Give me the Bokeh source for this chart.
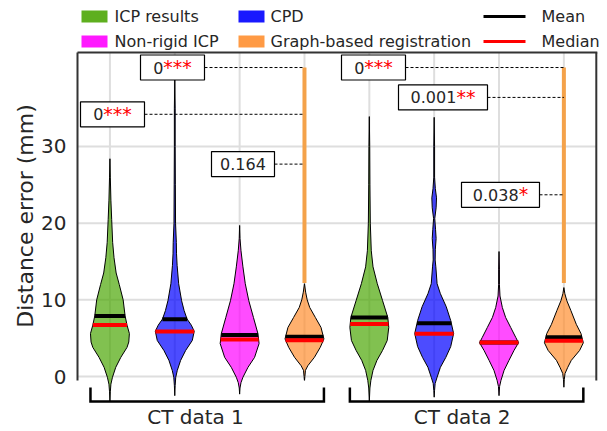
import numpy as np
from bokeh.plotting import figure
from bokeh.models import Range1d, FixedTicker
from bokeh.embed import file_html
from bokeh.resources import INLINE
from bokeh.core.properties import value

FONT = value("DejaVu Sans")

# ---------------- data ----------------
group_labels = ["CT data 1", "CT data 2"]
method_names = ["ICP results", "CPD", "Non-rigid ICP", "Graph-based registration"]
method_colors = ["#4ca606", "#0000ff", "#ff00ff", "#ff8f30"]
violin_pos = [1, 2, 3, 4, 5, 6, 7, 8]
violin_method = [0, 1, 2, 3, 0, 1, 2, 3]

mean_vals = [7.89, 7.48, 5.41, 5.17, 7.70, 6.96, 4.45, 5.11]
median_vals = [6.72, 5.87, 4.83, 4.74, 6.85, 5.56, 4.43, 4.67]

# violin outlines: distance value and relative half-width
icp1_y = [28.4, 26.0, 23.0, 20.5, 17.5, 15.5, 13.5, 12.0, 10.0, 7.9, 6.7, 5.6, 4.5, 3.8, 2.5, 1.2, -0.1, -1.0, -2.0, -3.3]
icp1_w = [0.0, 0.02, 0.05, 0.09, 0.14, 0.21, 0.32, 0.48, 0.68, 0.78, 0.88, 1.0, 0.97, 0.88, 0.56, 0.30, 0.13, 0.05, 0.02, 0.0]
cpd1_y = [38.8, 35.0, 30.0, 25.0, 20.0, 17.5, 16.0, 14.5, 12.1, 9.9, 8.6, 7.5, 6.7, 5.9, 4.7, 3.4, 2.1, 0.8, -0.1, -1.2, -2.5]
cpd1_w = [0.0, 0.02, 0.02, 0.03, 0.04, 0.08, 0.09, 0.12, 0.20, 0.35, 0.48, 0.63, 0.85, 1.0, 0.90, 0.56, 0.30, 0.13, 0.05, 0.02, 0.0]
nr1_y = [19.7, 18.0, 16.4, 14.3, 12.1, 9.9, 7.7, 5.6, 4.3, 2.5, 1.2, -0.1, -0.8, -1.5, -2.3]
nr1_w = [0.0, 0.02, 0.07, 0.17, 0.29, 0.47, 0.71, 0.94, 1.0, 0.77, 0.43, 0.17, 0.07, 0.02, 0.0]
gb1_y = [12.1, 11.0, 10.0, 9.0, 7.7, 6.4, 4.9, 3.8, 2.5, 1.4, 0.8, 0.0, -0.5]
gb1_w = [0.0, 0.06, 0.14, 0.27, 0.56, 0.85, 1.0, 0.81, 0.51, 0.17, 0.05, 0.02, 0.0]
icp2_y = [33.9, 30.0, 25.0, 20.0, 16.4, 14.3, 12.1, 9.9, 7.7, 6.4, 4.7, 3.4, 2.1, 0.8, -0.5, -1.5, -3.3]
icp2_w = [0.0, 0.02, 0.03, 0.05, 0.10, 0.19, 0.41, 0.68, 0.95, 1.0, 0.92, 0.68, 0.39, 0.19, 0.08, 0.03, 0.0]
cpd2_y = [33.8, 30.0, 26.0, 24.5, 23.3, 22.0, 20.6, 19.2, 18.0, 16.6, 15.2, 14.3, 12.1, 10.8, 9.1, 7.3, 5.6, 3.9, 2.5, 1.2, -0.1, -0.9, -1.8, -2.7]
cpd2_w = [0.0, 0.02, 0.02, 0.06, 0.12, 0.10, 0.03, 0.07, 0.10, 0.06, 0.05, 0.085, 0.15, 0.32, 0.62, 0.85, 1.0, 0.85, 0.60, 0.32, 0.15, 0.05, 0.02, 0.0]
nr2_y = [16.3, 14.0, 12.0, 10.5, 9.0, 7.7, 6.4, 5.1, 4.4, 3.4, 2.1, 0.8, -0.5, -1.3, -2.5]
nr2_w = [0.0, 0.02, 0.02, 0.05, 0.17, 0.34, 0.60, 0.86, 1.0, 0.77, 0.51, 0.26, 0.10, 0.03, 0.0]
gb2_y = [11.6, 10.8, 9.9, 8.6, 6.8, 5.6, 4.4, 3.4, 2.1, 1.2, 0.4, -0.4, -1.4]
gb2_w = [0.0, 0.05, 0.15, 0.36, 0.64, 0.88, 1.0, 0.81, 0.38, 0.20, 0.06, 0.02, 0.0]
profiles = [(icp1_y, icp1_w), (cpd1_y, cpd1_w), (nr1_y, nr1_w), (gb1_y, gb1_w),
            (icp2_y, icp2_w), (cpd2_y, cpd2_w), (nr2_y, nr2_w), (gb2_y, gb2_w)]

# significance annotations (vs graph-based registration)
pval_text = ["0", "0", "0.164", "0", "0.001", "0.038"]
pval_stars = ["***", "***", "", "***", "**", "*"]
pval_to = [4, 4, 4, 8, 8, 8]
pval_level = [40.3, 34.2, 27.7, 40.3, 36.4, 23.7]
sig_bar_x = [4, 8]
sig_bar_low = [12.2, 12.2]
sig_bar_high = [40.3, 40.3]

y_ticks = [0, 10, 20, 30]

# ---------------- layout ----------------
W, H = 607, 431
FL = 77
SX = 64.85
SY = 7.667
XR = (0.5, 0.5 + (W - FL) / SX)
YR = (-(H - 376) / SY, 376 / SY)


def px_x(page_x):
    return XR[0] + (page_x - FL) / SX


def px_y(page_y):
    return YR[1] - page_y / SY


HALF = 0.30
Y_TOP = px_y(52)
Y_BOT = px_y(380)
X_LEFT, X_RIGHT = 0.5, 8.5
box_cx = [px_x(172), px_x(112), px_x(242.5), px_x(373), px_x(442.5), px_x(500)]
box_wpx = [64, 64, 63, 64, 89, 78]
grid_col = "#dedede"
frame_col = "#333333"
text_col = "#262626"

p = figure(width=W, height=H, x_range=Range1d(*XR), y_range=Range1d(*YR),
           output_backend="svg", toolbar_location=None, x_axis_location=None,
           min_border_left=FL, min_border_right=0, min_border_top=0, min_border_bottom=0)
p.outline_line_color = None
p.xgrid.visible = False
p.ygrid.visible = False
p.background_fill_color = "white"
p.border_fill_color = "white"

# grid
p.segment(x0=violin_pos, y0=[Y_BOT] * 8, x1=violin_pos, y1=[Y_TOP] * 8, line_color=grid_col, line_width=2)
p.segment(x0=[X_LEFT] * 4, y0=y_ticks, x1=[X_RIGHT] * 4, y1=y_ticks, line_color=grid_col, line_width=2)

# frame pieces
p.segment(x0=[X_LEFT], y0=[Y_TOP], x1=[X_RIGHT], y1=[Y_TOP], line_color=frame_col, line_width=2, line_cap="square")
p.segment(x0=[X_RIGHT], y0=[Y_BOT], x1=[X_RIGHT], y1=[Y_TOP], line_color=frame_col, line_width=2)

# significance bars and connectors
p.segment(x0=sig_bar_x, y0=sig_bar_low, x1=sig_bar_x, y1=sig_bar_high, line_color="#f4a24a", line_width=4)
for i in range(len(pval_text)):
    right = box_cx[i] + box_wpx[i] / 2 / SX
    p.segment(x0=[right], y0=[pval_level[i]], x1=[pval_to[i]], y1=[pval_level[i]],
              line_color="black", line_width=1, line_dash="3 2")

# violins
for i, (ys, ws) in enumerate(profiles):
    cx = violin_pos[i]
    col = method_colors[violin_method[i]]
    ys = np.array(ys, dtype=float)
    hw = np.array(ws, dtype=float) * HALF
    xs = np.concatenate([cx + hw, (cx - hw)[::-1]])
    yy = np.concatenate([ys, ys[::-1]])
    p.patch(xs, yy, fill_color=col, fill_alpha=0.7, line_color="black", line_width=1)
    for val, lc in ((mean_vals[i], "black"), (median_vals[i], "red")):
        h = np.interp(val, ys[::-1], hw[::-1])
        p.segment(x0=[cx - h], y0=[val], x1=[cx + h], y1=[val], line_color=lc, line_width=4)

# annotation boxes
CW = {"0": 0.636, "1": 0.636, "2": 0.636, "3": 0.636, "4": 0.636, "5": 0.636,
      "6": 0.636, "7": 0.636, "8": 0.636, "9": 0.636, ".": 0.318, "*": 0.5}
for i in range(len(pval_text)):
    p.rect(x=[box_cx[i]], y=[pval_level[i]], width=box_wpx[i], height=25,
           width_units="screen", height_units="screen",
           fill_color="white", line_color="black", line_width=1.2)
    nw = sum(CW[c] for c in pval_text[i]) * 16
    sw = sum(CW[c] for c in pval_stars[i]) * 19
    split = -(nw + sw) / 2 + nw
    p.text(x=[box_cx[i]], y=[pval_level[i]], text=[pval_text[i]], x_offset=split, y_offset=0,
           text_align="right", text_baseline="middle", text_font=FONT,
           text_font_size="16px", text_color=text_col)
    if pval_stars[i]:
        p.text(x=[box_cx[i]], y=[pval_level[i]], text=[pval_stars[i]], x_offset=split, y_offset=-0.5,
               text_align="left", text_baseline="middle", text_font=FONT,
               text_font_size="19px", text_color="red")

# group brackets and labels
for g, lab in enumerate(group_labels):
    c = float(np.mean(violin_pos[4 * g:4 * g + 4]))
    yb, yt = px_y(401), px_y(387)
    p.line(x=[c - 1.8, c - 1.8, c + 1.8, c + 1.8], y=[yt, yb, yb, yt], line_color="black",
           line_width=2.5, line_join="miter")
lab_x = [px_x(195), px_x(461.7)]
p.text(x=lab_x, y=[px_y(416)] * 2, text=group_labels, text_align="center", text_baseline="middle",
       text_font=FONT, text_font_size="20px", text_color=text_col)

# legend (drawn by hand)
row_y = [px_y(16), px_y(41)]
leg_patch_x = [px_x(94), px_x(251), px_x(94), px_x(251)]
leg_patch_y = [row_y[0], row_y[0], row_y[1], row_y[1]]
p.rect(x=leg_patch_x, y=leg_patch_y, width=26, height=12, width_units="screen", height_units="screen",
       fill_color=method_colors, fill_alpha=0.9, line_color=None)
p.text(x=[px_x(114), px_x(270), px_x(114), px_x(270)], y=leg_patch_y,
       text=method_names,
       text_align="left", text_baseline="middle", text_font=FONT, text_font_size="16px", text_color=text_col)
p.segment(x0=[px_x(483)] * 2, y0=row_y, x1=[px_x(525)] * 2, y1=row_y,
          line_color=["black", "red"], line_width=3)
p.text(x=[px_x(541)] * 2, y=row_y, text=["Mean", "Median"], text_align="left", text_baseline="middle",
       text_font=FONT, text_font_size="16px", text_color=text_col)

# y axis
ax = p.yaxis[0]
ax.ticker = FixedTicker(ticks=y_ticks)
ax.bounds = (Y_BOT, Y_TOP)
ax.axis_line_width = 2
ax.axis_line_color = frame_col
ax.major_tick_line_color = None
ax.minor_tick_line_color = None
ax.major_label_text_font = "DejaVu Sans"
ax.major_label_text_font_size = "20px"
ax.major_label_text_color = text_col
ax.major_label_standoff = 5
ax.axis_label = "Distance error (mm)"
ax.axis_label_text_font = "DejaVu Sans"
ax.axis_label_text_font_size = "22px"
ax.axis_label_text_font_style = "normal"
ax.axis_label_text_color = text_col
ax.axis_label_standoff = 0

open("out.html", "w").write(file_html(p, INLINE))
